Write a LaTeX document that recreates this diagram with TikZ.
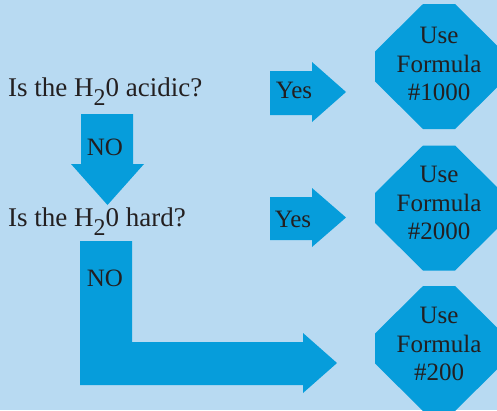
\documentclass[tikz,border=0pt]{standalone}
\usepackage{fontspec}
\setmainfont{Liberation Serif}
\definecolor{bgblue}{HTML}{B8DAF2}
\definecolor{shapeblue}{HTML}{069DDB}
\definecolor{inkc}{HTML}{231F20}
\begin{document}
\begin{tikzpicture}[x=1pt,y=-1pt,
  shp/.style={fill=shapeblue,draw=none},
  lbl/.style={text=inkc,font=\fontsize{25}{28}\selectfont,inner sep=0pt,anchor=base},
  qtext/.style={text=inkc,font=\fontsize{27}{30}\selectfont,inner sep=0pt,anchor=base west}]
\useasboundingbox (0,0) rectangle (497,410);
\clip (0,0) rectangle (497,410);
\fill[bgblue] (0,0) rectangle (497,410);

% questions
\node[qtext] (q1) at (8,96) {Is the H\raisebox{-9.5pt}{\fontsize{24}{24}\selectfont 2}0 acidic?};
\node[qtext] (q2) at (8,226) {Is the H\raisebox{-9.5pt}{\fontsize{24}{24}\selectfont 2}0 hard?};

% down arrow NO
\fill[shp] (81,114) -- (133,114) -- (133,164) -- (144,164) -- (107.5,205) -- (71,164) -- (81,164) -- cycle;
\node[lbl] (no1) at (105,155) {NO};

% L arrow NO
\fill[shp] (80,241) -- (132,241) -- (132,342) -- (303,342) -- (303,333) -- (337,363) -- (303,393) -- (303,385) -- (80,385) -- cycle;
\node[lbl] (no2) at (105,286) {NO};

% Yes arrows
\fill[shp] (270,71) -- (312,71) -- (312,62) -- (346,92) -- (312,122) -- (312,115) -- (270,115) -- cycle;
\node[lbl] (yes1) at (294,98) {Yes};
\fill[shp] (270,197) -- (312,197) -- (312,188) -- (346,217.5) -- (312,247) -- (312,240) -- (270,240) -- cycle;
\node[lbl] (yes2) at (293,227) {Yes};

% octagons
\foreach \cy in {66.5,208,348.5}{
  \fill[shp] (423,\cy-62.5) -- (455,\cy-62.5) -- (503,\cy-15) -- (503,\cy+15) -- (455,\cy+62.5) -- (423,\cy+62.5) -- (375,\cy+15) -- (375,\cy-15) -- cycle;
}
\node[lbl] (u1) at (439,43) {Use};
\node[lbl] (f1) at (439,72) {Formula};
\node[lbl] (n1) at (439,100) {\#1000};
\node[lbl] (u2) at (439,182) {Use};
\node[lbl] (f2) at (439,211) {Formula};
\node[lbl] (n2) at (439,239) {\#2000};
\node[lbl] (u3) at (439,323) {Use};
\node[lbl] (f3) at (439,352) {Formula};
\node[lbl] (n3) at (439,380) {\#200};
\end{tikzpicture}
\end{document}
